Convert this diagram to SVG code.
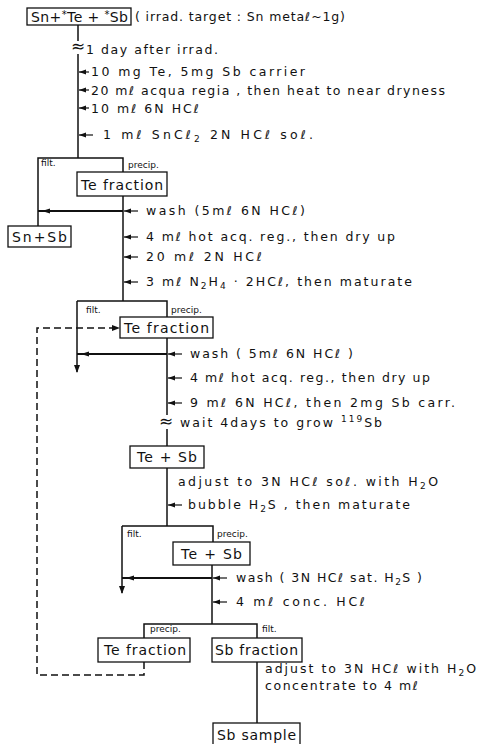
<svg xmlns="http://www.w3.org/2000/svg" width="479" height="744" viewBox="0 0 479 744">
<style>
text{font-family:"DejaVu Sans","Liberation Sans",sans-serif;fill:#111}
.s{font-size:12.5px}
.b{font-size:14px}
.t{font-size:9px}
.sub{font-size:9px}
.box{fill:#fff;stroke:#111;stroke-width:1.3}
.ln{fill:none;stroke:#111;stroke-width:1.5}
.wl{fill:none;stroke:#111;stroke-width:2}
.ar{fill:none;stroke:#111;stroke-width:1.2}
.dl{fill:none;stroke:#111;stroke-width:1.5;stroke-dasharray:7,4}
</style>
<defs>
<marker id="sa" markerWidth="8" markerHeight="6" refX="7" refY="3" orient="auto" markerUnits="userSpaceOnUse"><path d="M0,0.5 L7,3 L0,5.5 Z" fill="#111"/></marker>
<marker id="wa" markerWidth="12" markerHeight="6" refX="12" refY="3" orient="auto" markerUnits="userSpaceOnUse"><path d="M0,0.5 L8,3 L0,5.5 Z" fill="#111"/></marker>
<marker id="da" markerWidth="8" markerHeight="8" refX="7" refY="4" orient="auto" markerUnits="userSpaceOnUse"><path d="M0,1 L8,4 L0,7 Z" fill="#111"/></marker>
</defs>

<g id="connectors">
<path class="ln" d="M78,25 V41 M78,54 V158"/>
<path class="ln" d="M38,226 V158 H123 V172"/>
<path class="ln" d="M123,196 V301"/>
<path class="ln" d="M77,301 H167 V317"/>
<path class="ln" d="M77,301 V372" marker-end="url(#da)"/>
<path class="ln" d="M167,338 V415 M167,429 V446"/>
<path class="ln" d="M167,468 V526"/>
<path class="ln" d="M122,526 V593" marker-end="url(#da)"/>
<path class="ln" d="M122,526 H213 V542"/>
<path class="ln" d="M212,565 V624"/>
<path class="ln" d="M144,638 V624 H257 V638"/>
<path class="ln" d="M257,662 V723"/>
<path class="dl" d="M144,662 V675 H37 V328 H119" marker-end="url(#da)"/>
<path class="wl" d="M123,211 H38" marker-end="url(#wa)"/>
<path class="wl" d="M167,354 H77" marker-end="url(#wa)"/>
<path class="wl" d="M212,578 H122" marker-end="url(#wa)"/>
<g class="ar">
<path d="M89,72 H79" marker-end="url(#sa)"/>
<path d="M89,90 H79" marker-end="url(#sa)"/>
<path d="M89,108 H79" marker-end="url(#sa)"/>
<path d="M93,135 H79" marker-end="url(#sa)"/>
<path d="M138,211 H124" marker-end="url(#sa)"/>
<path d="M138,237 H124" marker-end="url(#sa)"/>
<path d="M138,257 H124" marker-end="url(#sa)"/>
<path d="M138,282 H124" marker-end="url(#sa)"/>
<path d="M182,354 H168" marker-end="url(#sa)"/>
<path d="M182,378 H168" marker-end="url(#sa)"/>
<path d="M182,403 H168" marker-end="url(#sa)"/>
<path d="M182,505 H168" marker-end="url(#sa)"/>
<path d="M227,578 H213" marker-end="url(#sa)"/>
<path d="M227,602 H213" marker-end="url(#sa)"/>
</g>
</g>

<g id="n-start"><rect class="box" x="27" y="8" width="104" height="17"/>
<text class="b" x="31" y="22" textLength="97" lengthAdjust="spacing">Sn+<tspan dy="-4" font-size="10">*</tspan><tspan dy="4">Te + </tspan><tspan dy="-4" font-size="10">*</tspan><tspan dy="4">Sb</tspan></text></g>
<g id="n-te1"><rect class="box" x="77" y="172" width="90" height="24"/><text class="b" x="81" y="190" textLength="82" lengthAdjust="spacing">Te fraction</text></g>
<g id="n-snsb"><rect class="box" x="8" y="226" width="63" height="21"/><text class="b" x="12" y="242" textLength="55" lengthAdjust="spacing">Sn+Sb</text></g>
<g id="n-te2"><rect class="box" x="120" y="317" width="93" height="21"/><text class="b" x="124" y="333" textLength="85" lengthAdjust="spacing">Te fraction</text></g>
<g id="n-tesb1"><rect class="box" x="130" y="446" width="74" height="22"/><text class="b" x="137" y="462" textLength="60" lengthAdjust="spacing">Te + Sb</text></g>
<g id="n-tesb2"><rect class="box" x="173" y="542" width="77" height="23"/><text class="b" x="181" y="559" textLength="61" lengthAdjust="spacing">Te + Sb</text></g>
<g id="n-te3"><rect class="box" x="98" y="638" width="92" height="24"/><text class="b" x="104" y="655" textLength="82" lengthAdjust="spacing">Te fraction</text></g>
<g id="n-sbfrac"><rect class="box" x="212" y="638" width="90" height="24"/><text class="b" x="215" y="655" textLength="83" lengthAdjust="spacing">Sb fraction</text></g>
<g id="n-sbsample"><rect class="box" x="213" y="723" width="87" height="24"/><text class="b" x="217" y="740" textLength="79" lengthAdjust="spacing">Sb sample</text></g>

<g id="labels">
<text class="s" x="135" y="21" textLength="210" lengthAdjust="spacing">( irrad. target : Sn metaℓ~1g)</text>
<text x="71" y="52" font-size="17">≈</text>
<text class="s" x="86" y="54" textLength="132" lengthAdjust="spacing">1 day after irrad.</text>
<text class="s" x="91" y="76" textLength="214" lengthAdjust="spacing">10 mg Te, 5mg Sb carrier</text>
<text class="s" x="91" y="95" textLength="354" lengthAdjust="spacing">20 mℓ acqua regia , then heat to near dryness</text>
<text class="s" x="91" y="113" textLength="108" lengthAdjust="spacing">10 mℓ 6N HCℓ</text>
<text class="s" x="103" y="139" textLength="210" lengthAdjust="spacing">1 mℓ SnCℓ<tspan class="sub" dy="3">2</tspan><tspan dy="-3"> 2N HCℓ soℓ.</tspan></text>
<text class="t" x="41" y="166">filt.</text>
<text class="t" x="128" y="168">precip.</text>
<text class="s" x="146" y="215" textLength="159" lengthAdjust="spacing">wash (5mℓ 6N HCℓ)</text>
<text class="s" x="146" y="241" textLength="249" lengthAdjust="spacing">4 mℓ hot acq. reg., then dry up</text>
<text class="s" x="146" y="261" textLength="116" lengthAdjust="spacing">20 mℓ 2N HCℓ</text>
<text class="s" x="146" y="286" textLength="266" lengthAdjust="spacing">3 mℓ N<tspan class="sub" dy="3">2</tspan><tspan dy="-3">H</tspan><tspan class="sub" dy="3">4</tspan><tspan dy="-3"> · 2HCℓ, then maturate</tspan></text>
<text class="t" x="86" y="313">filt.</text>
<text class="t" x="171" y="313">precip.</text>
<text class="s" x="190" y="358" textLength="163" lengthAdjust="spacing">wash ( 5mℓ 6N HCℓ )</text>
<text class="s" x="190" y="382" textLength="240" lengthAdjust="spacing">4 mℓ hot acq. reg., then dry up</text>
<text class="s" x="190" y="407" textLength="265" lengthAdjust="spacing">9 mℓ 6N HCℓ, then 2mg Sb carr.</text>
<text x="159" y="427" font-size="17">≈</text>
<text class="s" x="180" y="427" textLength="202" lengthAdjust="spacing">wait 4days to grow <tspan class="sub" dy="-5">119</tspan><tspan dy="5">Sb</tspan></text>
<text class="s" x="178" y="486" textLength="260" lengthAdjust="spacing">adjust to 3N HCℓ soℓ. with H<tspan class="sub" dy="3">2</tspan><tspan dy="-3">O</tspan></text>
<text class="s" x="188" y="509" textLength="222" lengthAdjust="spacing">bubble H<tspan class="sub" dy="3">2</tspan><tspan dy="-3">S , then maturate</tspan></text>
<text class="t" x="127" y="537">filt.</text>
<text class="t" x="217" y="537">precip.</text>
<text class="s" x="236" y="582" textLength="186" lengthAdjust="spacing">wash ( 3N HCℓ sat. H<tspan class="sub" dy="3">2</tspan><tspan dy="-3">S )</tspan></text>
<text class="s" x="236" y="606" textLength="129" lengthAdjust="spacing">4 mℓ conc. HCℓ</text>
<text class="t" x="150" y="632">precip.</text>
<text class="t" x="262" y="632">filt.</text>
<text class="s" x="265" y="673" textLength="211" lengthAdjust="spacing">adjust to 3N HCℓ with H<tspan class="sub" dy="3">2</tspan><tspan dy="-3">O</tspan></text>
<text class="s" x="265" y="690" textLength="153" lengthAdjust="spacing">concentrate to 4 mℓ</text>
</g>
</svg>
